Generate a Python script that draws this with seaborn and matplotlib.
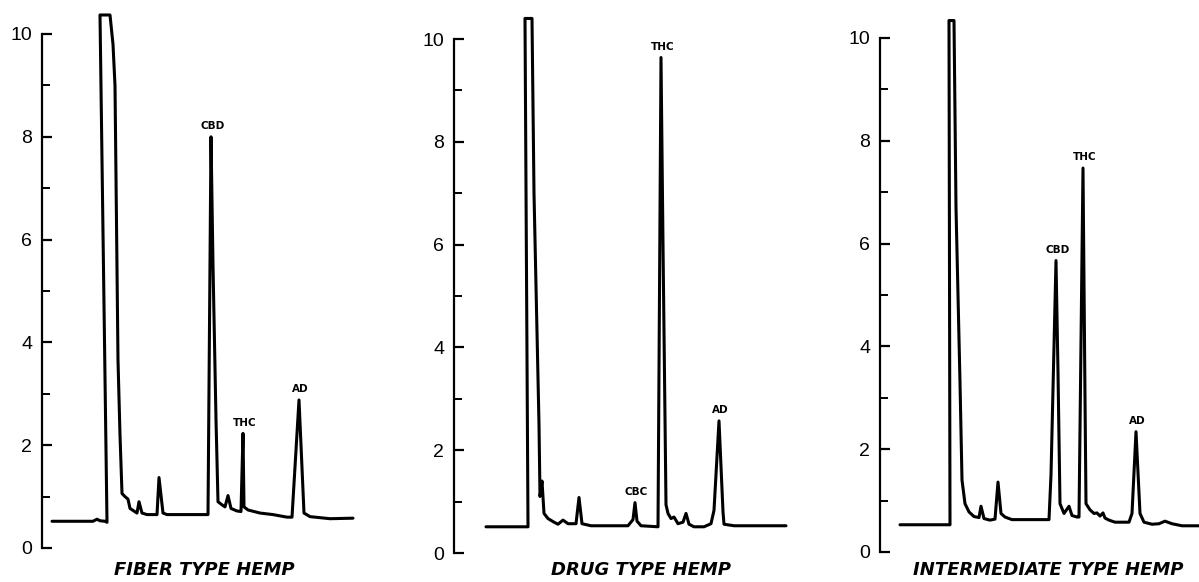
import numpy as np
import pandas as pd
import matplotlib
matplotlib.use("Agg")
import matplotlib.pyplot as plt
import seaborn as sns

# retention position (arbitrary units, from the axis) and detector response
fiber_t = [10, 51, 55, 58, 63, 65, 58, 68, 71, 73, 76, 78, 80, 83, 86, 88, 95, 97, 100, 105,
           115, 117, 121, 125, 166, 169, 171, 174, 176, 180, 183, 186, 189, 195, 199, 201, 202,
           206, 218, 231, 245, 250, 257, 262, 268, 288, 311]
fiber_v = [0.52, 0.52, 0.56, 0.53, 0.52, 0.50, 10.37, 10.37, 9.8, 9.0, 3.65, 2.2, 1.06, 1.0,
           0.95, 0.77, 0.68, 0.9, 0.68, 0.65, 0.65, 1.37, 0.68, 0.65, 0.65, 8.0, 5.5, 2.5, 0.9,
           0.84, 0.8, 1.02, 0.77, 0.72, 0.71, 2.23, 0.8, 0.74, 0.68, 0.65, 0.6, 0.6, 2.88, 0.68,
           0.61, 0.57, 0.58]

drug_t = [32, 74, 71, 78, 80, 85, 86, 88, 90, 94, 100, 104, 109, 114, 122, 125, 128, 137, 174,
          179, 181, 183, 187, 204, 207, 209, 212, 214, 217, 220, 224, 229, 232, 235, 240, 250,
          257, 260, 265, 269, 270, 280, 332]
drug_v = [0.51, 0.51, 10.4, 10.4, 7.0, 2.5, 1.1, 1.4, 0.77, 0.67, 0.6, 0.56, 0.64, 0.57, 0.57,
          1.08, 0.57, 0.53, 0.53, 0.65, 0.98, 0.62, 0.53, 0.51, 9.64, 6.0, 0.94, 0.77, 0.67, 0.7,
          0.57, 0.6, 0.77, 0.56, 0.51, 0.51, 0.57, 0.83, 2.57, 0.8, 0.56, 0.53, 0.53]

inter_t = [20, 70, 69, 74, 76, 80, 82, 85, 89, 94, 99, 101, 104, 110, 115, 118, 121, 125, 132,
           169, 171, 176, 178, 180, 184, 189, 192, 197, 199, 203, 205, 206, 210, 214, 217, 220,
           223, 225, 229, 235, 249, 252, 256, 260, 264, 272, 279, 285, 292, 302, 320]
inter_v = [0.53, 0.53, 10.34, 10.34, 6.7, 3.3, 1.4, 0.94, 0.78, 0.69, 0.67, 0.89, 0.65, 0.62,
           0.64, 1.36, 0.75, 0.68, 0.63, 0.63, 1.5, 5.67, 3.5, 0.94, 0.75, 0.89, 0.71, 0.68, 0.68,
           7.47, 3.0, 0.94, 0.82, 0.75, 0.76, 0.7, 0.76, 0.66, 0.62, 0.58, 0.58, 0.75, 2.34, 0.75,
           0.58, 0.54, 0.55, 0.6, 0.55, 0.51, 0.51]

fiber_peaks = [("CBD", 169), ("THC", 201), ("AD", 257)]
drug_peaks = [("CBC", 181), ("THC", 207), ("AD", 265)]
inter_peaks = [("CBD", 176), ("THC", 203), ("AD", 256)]

titles = ["FIBER TYPE HEMP", "DRUG TYPE HEMP", "INTERMEDIATE TYPE HEMP"]
y_major = [0, 2, 4, 6, 8, 10]
y_minor = [1, 3, 5, 7, 9]

sns.set_style("ticks")
plt.rcParams["font.family"] = ["Liberation Sans", "DejaVu Sans"]
plt.rcParams["text.color"] = "black"
plt.rcParams["axes.edgecolor"] = "black"
plt.rcParams["ytick.color"] = "black"
plt.rcParams["xtick.color"] = "black"

W, H = 1199, 582
fig = plt.figure(figsize=(W / 100, H / 100), dpi=100)

# axis position in pixels: (left, zero line, width, title centre)
layout = [(42, 548, 340, 204), (454, 553, 340, 641), (880, 552, 319, 1048)]
unit = 51.4
ytop = 10.6
panels = [(fiber_t, fiber_v, fiber_peaks), (drug_t, drug_v, drug_peaks),
          (inter_t, inter_v, inter_peaks)]

for (t, v, peaks), (left, zero, width, tx), title in zip(panels, layout, titles):
    ax = fig.add_axes([left / W, (H - zero) / H, width / W, ytop * unit / H])
    df = pd.DataFrame({"t": t, "v": v})
    sns.lineplot(data=df, x="t", y="v", sort=False, estimator=None,
                 color="black", linewidth=2.2, ax=ax)
    ax.set_xlim(0, width)
    ax.set_ylim(0, ytop)
    ax.set_xlabel("")
    ax.set_ylabel("")
    sns.despine(ax=ax, bottom=True)
    ax.spines["left"].set_bounds(0, 10)
    ax.spines["left"].set_linewidth(1.6)
    ax.set_xticks([])
    ax.set_yticks(y_major)
    ax.set_yticks(y_minor, minor=True)
    ax.set_yticklabels([str(y) for y in y_major])
    ax.tick_params(axis="y", which="major", direction="in", length=7, width=1.6,
                   pad=7, labelsize=14, labelcolor="black")
    ax.tick_params(axis="y", which="minor", direction="in", length=6, width=1.4)
    ax.patch.set_alpha(0)

    # peak names just above each apex
    for name, pt in peaks:
        i = t.index(pt)
        ax.annotate(name, (pt, v[i]), xytext=(1, 4), textcoords="offset points",
                    ha="center", va="bottom", fontsize=7.5, fontweight="bold",
                    color="black", family=["DejaVu Sans"])

    fig.text(tx / W, 1 - 570 / H, title, ha="center", va="center", fontsize=13,
             fontweight="bold", fontstyle="italic", color="black",
             family=["DejaVu Sans"])

fig.savefig("out.png", dpi=100)
